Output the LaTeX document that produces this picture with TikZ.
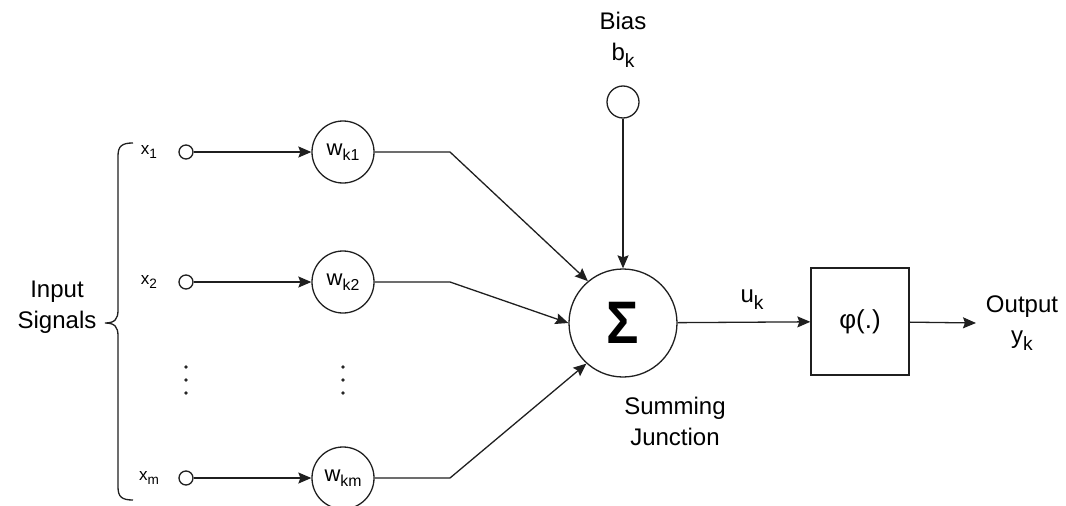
\documentclass[tikz,border=0pt]{standalone}
\usepackage{fontspec}
\setmainfont{Liberation Sans}
\usetikzlibrary{arrows.meta}
\newcommand\lowsub[1]{\raisebox{-0.28em}{\scalebox{0.8}{#1}}}
\newcommand\wsub[1]{\raisebox{-0.22em}{\scalebox{0.72}{#1}}}
\tikzset{
  ln/.style={line width=1.3pt, draw=black!88},
  arr/.style={ln, -{Stealth[length=13pt,width=11pt,inset=2pt]}},
  port/.style={circle, ln, fill=white, minimum size=14pt, inner sep=0pt},
  weight/.style={circle, ln, minimum size=62pt, inner sep=0pt, font=\fontsize{22}{26}\selectfont},
  lbl/.style={align=center, inner sep=0pt, font=\fontsize{24}{31}\selectfont},
  small/.style={inner sep=0pt, font=\fontsize{17}{20}\selectfont},
}
\begin{document}
\begin{tikzpicture}[x=1pt, y=-1pt]
\useasboundingbox (0,0) rectangle (1066,506);

% input ports and their labels
\node[port] (in1) at (186,152) {};
\node[port] (in2) at (186,282) {};
\node[port] (inm) at (186,478) {};
\node[small] (lx1) at (149,152) {x\lowsub{1}};
\node[small] (lx2) at (149,282) {x\lowsub{2}};
\node[small] (lxm) at (149,478) {x\lowsub{m}};

% synaptic weights
\node[weight] (w1) at (343,152) {w\wsub{k1}};
\node[weight] (w2) at (343,282) {w\wsub{k2}};
\node[weight] (wm) at (343,478) {w\wsub{km}};

% summing junction, bias and activation
\node[circle, ln, minimum size=108pt, inner sep=0pt] (sum) at (623,323)
  {\fontsize{60}{60}\selectfont\bfseries\scalebox{0.9}[1]{Σ}};
\node[circle, ln, minimum size=32pt, inner sep=0pt] (bias) at (623,102) {};
\node[rectangle, ln, minimum width=98pt, minimum height=107pt, inner sep=0pt,
      font=\fontsize{26}{30}\selectfont] (phi) at (860,321.5) {φ(.)};

% text labels
\node[lbl] (biaslbl) at (623,40) {Bias\\b\lowsub{k}};
\node[lbl] (sumlbl) at (675,421) {Summing\\Junction};
\node[lbl] (ulbl) at (752,300) {u\lowsub{k}};
\node[lbl] (outlbl) at (1022,323) {Output\\y\lowsub{k}};
\node[lbl] (inlbl) at (57,307) {Input\\Signals};

% bend points of the weighted lines and the output end
\coordinate (k1) at (450,152);
\coordinate (k2) at (450,282);
\coordinate (km) at (450,478);
\coordinate (yout) at (976,323);

% connectors
\draw[arr] (in1) -- (w1);
\draw[arr] (in2) -- (w2);
\draw[arr] (inm) -- (wm);
\draw[arr] (w1.east) -- (k1) -- (sum.130);
\draw[arr] (w2.east) -- (k2) -- (sum.180);
\draw[arr] (wm.east) -- (km) -- (sum.228);
\draw[arr] (bias) -- (sum);
\draw[arr] (sum) -- (phi);
\draw[arr] (phi) -- (yout);

% curly brace grouping the inputs
\draw[ln] (133,143) .. controls (122,143) and (118,146) .. (118,156)
  -- (118,310) .. controls (118,319) and (115,323) .. (105,323)
  .. controls (115,323) and (118,327) .. (118,336)
  -- (118,487) .. controls (118,497) and (122,500) .. (133,500);

% vertical ellipses
\foreach \xx in {186,343}
  \foreach \yy in {367,380,393}
    \fill[black!85] (\xx,\yy) circle (1.8);
\end{tikzpicture}
\end{document}
